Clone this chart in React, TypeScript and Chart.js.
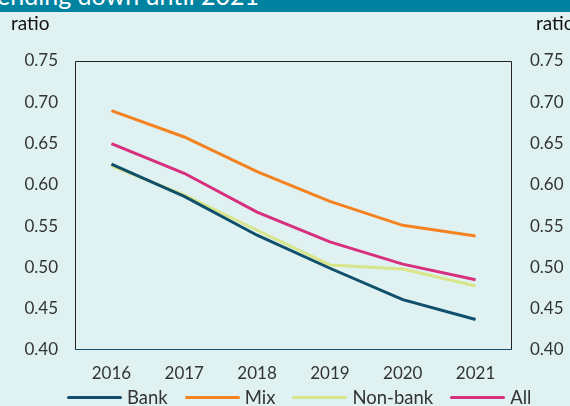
import React, { useEffect, useRef } from "react";
import { Chart, registerables } from "chart.js";

Chart.register(...registerables);

const years = ["2016", "2017", "2018", "2019", "2020", "2021"];
const bank = [0.625, 0.586, 0.539, 0.499, 0.461, 0.437];
const mix = [0.69, 0.658, 0.616, 0.58, 0.551, 0.538];
const nonBank = [0.623, 0.588, 0.545, 0.503, 0.498, 0.4775];
const all = [0.65, 0.614, 0.567, 0.531, 0.504, 0.485];

const seriesNames = ["Bank", "Mix", "Non-bank", "All"];
const seriesColors = ["#0f4f6b", "#f58220", "#d8e58a", "#d6307f"];
const seriesValues = [bank, mix, nonBank, all];

const yMin = 0.4;
const yMax = 0.75;
const yStep = 0.05;

const FONT = "Lato";
const BG = "#dff2f1";

const boxPlugin = {
  id: "boxPlugin",
  afterDraw(chart: any) {
    const { ctx, chartArea } = chart;
    const { left, right, top, bottom } = chartArea;
    ctx.save();
    ctx.lineWidth = 1;
    ctx.strokeStyle = "#222222";
    ctx.beginPath();
    ctx.moveTo(left + 0.5, bottom);
    ctx.lineTo(left + 0.5, top + 0.5);
    ctx.lineTo(right - 0.5, top + 0.5);
    ctx.lineTo(right - 0.5, bottom);
    ctx.stroke();
    ctx.strokeStyle = "#1d4e6a";
    ctx.beginPath();
    ctx.moveTo(left, bottom - 0.5);
    ctx.lineTo(right, bottom - 0.5);
    ctx.stroke();
    ctx.restore();
  },
};

export default function App() {
  const ref = useRef<HTMLCanvasElement | null>(null);

  useEffect(() => {
    if (!ref.current) return;
    const tickFont = { family: FONT, size: 17 };
    const chart = new Chart(ref.current, {
      type: "line",
      data: {
        labels: years,
        datasets: seriesNames.map((name, i) => ({
          label: name,
          data: seriesValues[i],
          borderColor: seriesColors[i],
          backgroundColor: seriesColors[i],
          borderWidth: 3,
          pointRadius: 0,
          tension: 0,
          yAxisID: "y",
        })),
      },
      options: {
        animation: false,
        responsive: false,
        layout: { padding: { top: 61, left: 0, right: 0, bottom: 0 } },
        plugins: {
          legend: { display: false },
          tooltip: { enabled: false },
        },
        scales: {
          x: {
            offset: true,
            grid: { display: false, drawTicks: false },
            border: { display: false },
            ticks: { font: tickFont, color: "#333333", padding: 13, maxRotation: 0 },
            afterFit: (s: any) => {
              s.height = 56;
            },
          },
          y: {
            position: "left",
            min: yMin,
            max: yMax,
            grid: { display: false, drawTicks: false },
            border: { display: false },
            ticks: {
              stepSize: yStep,
              font: tickFont,
              color: "#333333",
              padding: 17,
              callback: (v: any) => Number(v).toFixed(2),
            },
            afterFit: (s: any) => {
              s.width = 75;
            },
          },
          y2: {
            position: "right",
            min: yMin,
            max: yMax,
            grid: { display: false, drawTicks: false },
            border: { display: false },
            ticks: {
              stepSize: yStep,
              font: tickFont,
              color: "#333333",
              padding: 18,
              callback: (v: any) => Number(v).toFixed(2),
            },
            afterFit: (s: any) => {
              s.width = 58;
            },
          },
        },
      },
      plugins: [boxPlugin],
    });
    return () => chart.destroy();
  }, []);

  return (
    <div
      style={{
        position: "absolute",
        left: 0,
        top: 0,
        width: 570,
        height: 406,
        overflow: "hidden",
        background: BG,
        fontFamily: FONT,
      }}
    >
      <canvas
        ref={ref}
        width={570}
        height={406}
        style={{ position: "absolute", left: 0, top: 0, width: 570, height: 406 }}
      />
      <div
        style={{
          position: "absolute",
          left: 0,
          top: 0,
          width: 570,
          height: 12,
          background: "#0083a1",
          overflow: "hidden",
        }}
      >
        <span
          style={{
            position: "absolute",
            right: 311,
            top: -20,
            fontSize: 25,
            lineHeight: "30px",
            color: "#ffffff",
            whiteSpace: "nowrap",
          }}
        >
          Ratio trending down until 2021
        </span>
      </div>
      <div style={{ position: "absolute", left: 11, top: 12, fontSize: 19, lineHeight: "22px", color: "#111", whiteSpace: "nowrap" }}>
        ratio
      </div>
      <div style={{ position: "absolute", left: 536, top: 12, fontSize: 19, lineHeight: "22px", color: "#111", whiteSpace: "nowrap" }}>
        ratio
      </div>
      <div
        style={{
          position: "absolute",
          left: 67,
          top: 386,
          display: "flex",
          alignItems: "center",
          fontSize: 18.5,
          lineHeight: "22px",
          color: "#333333",
          whiteSpace: "nowrap",
        }}
      >
        {seriesNames.map((name, i) => (
          <div key={name} style={{ display: "flex", alignItems: "center", marginRight: 17 }}>
            <span style={{ display: "inline-block", width: 55, height: 3, background: seriesColors[i], borderRadius: 1.5 }} />
            <span style={{ marginLeft: 5 }}>{name}</span>
          </div>
        ))}
      </div>
    </div>
  );
}
